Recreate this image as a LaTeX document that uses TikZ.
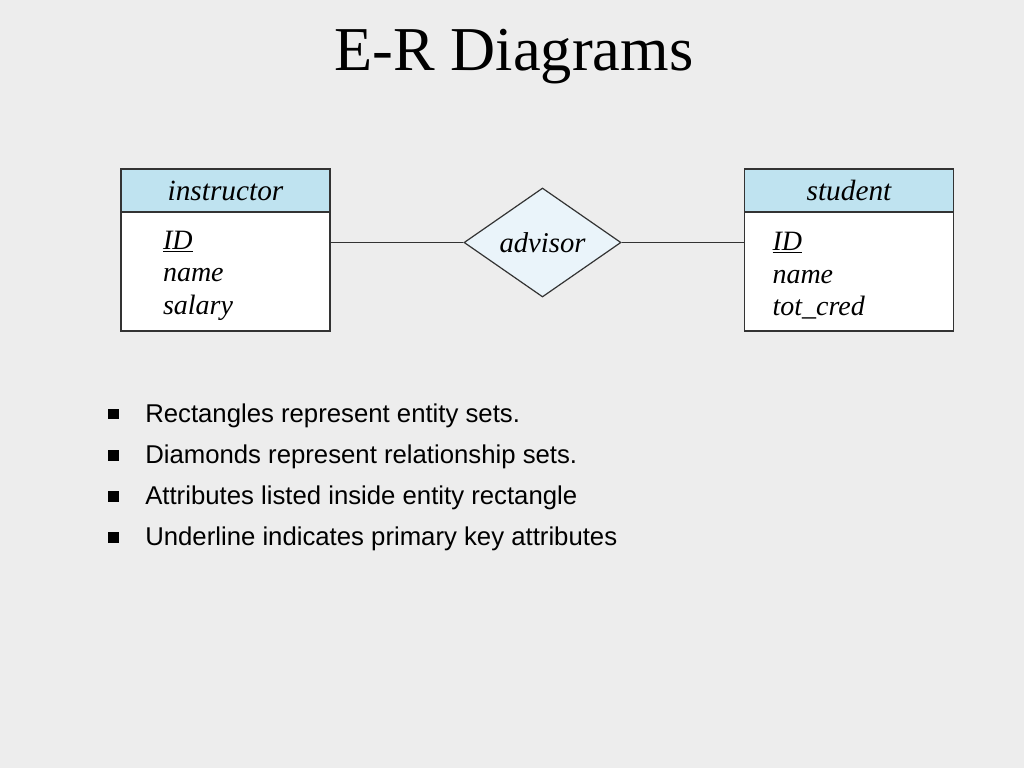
\documentclass[tikz,border=0pt]{standalone}
\usepackage{fontspec}
\setmainfont{Liberation Serif}
\setsansfont{Liberation Sans}
\usetikzlibrary{positioning,shapes.geometric}
\definecolor{slidebg}{HTML}{EDEDED}
\definecolor{headblue}{HTML}{BFE3F0}
\definecolor{diablue}{HTML}{EAF4FA}
\definecolor{edgegray}{HTML}{333333}
\tikzset{
  head/.style={rectangle, draw=edgegray, line width=1.2pt, fill=headblue, minimum width=156.75pt, minimum height=32.25pt, inner sep=0pt, font=\fontsize{22}{24}\selectfont\itshape},
  attrs/.style={rectangle, draw=edgegray, line width=1.2pt, fill=white, minimum width=156.75pt, minimum height=89.25pt, text width=156.75pt-2*#1, inner xsep=#1, align=left, font=\fontsize{21}{24.5}\selectfont\itshape, execute at begin node={\rule{0pt}{20pt}}},
  rel/.style={diamond, aspect=1.44, draw=edgegray, line width=0.9pt, fill=diablue, minimum width=117.75pt, minimum height=81.75pt, inner sep=0pt, font=\fontsize{21.5}{24}\selectfont\itshape},
  connect/.style={draw=edgegray, line width=1pt},
  bullet/.style={rectangle, fill=black, minimum size=8.2pt, inner sep=0pt},
  point/.style={anchor=base west, inner sep=0pt, font=\sffamily\fontsize{19.3}{22}\selectfont}
}

\begin{document}
\begin{tikzpicture}[x=0.75pt, y=-0.75pt]
  \useasboundingbox[fill=slidebg] (0,0) rectangle (1024,768);

  \node[anchor=base, font=\fontsize{46.8}{50}\selectfont] (title) at (514,70) {E-R Diagrams};

  % Entity sets: header with name, body with attributes
  \node[head] (instr) at (225.5,190.5) {instructor};
  \node[attrs=31.5pt, below=-1.2pt of instr] (instrattr) {\underline{ID}\\ name\\ salary};

  \node[head] (stud) at (849,190.5) {student};
  \node[attrs=21pt, below=-1.2pt of stud] (studattr) {\underline{ID}\\ name\\ tot\_cred};

  % Relationship set and its links
  \node[rel] (adv) at (542.5,242.5) {advisor};
  \draw[connect] (instrattr.east |- adv.west) -- (adv.west);
  \draw[connect] (adv.east) -- (adv.east -| studattr.west);

  % Bullet list
  \foreach \txt [count=\k] in {Rectangles represent entity sets., Diamonds represent relationship sets., Attributes listed inside entity rectangle, Underline indicates primary key attributes} {
    \node[point] (txt\k) at (145,380.7+41.3*\k) {\txt};
    \node[bullet] (sq\k) at (113.5,372.7+41.3*\k) {};
  }
\end{tikzpicture}
\end{document}
